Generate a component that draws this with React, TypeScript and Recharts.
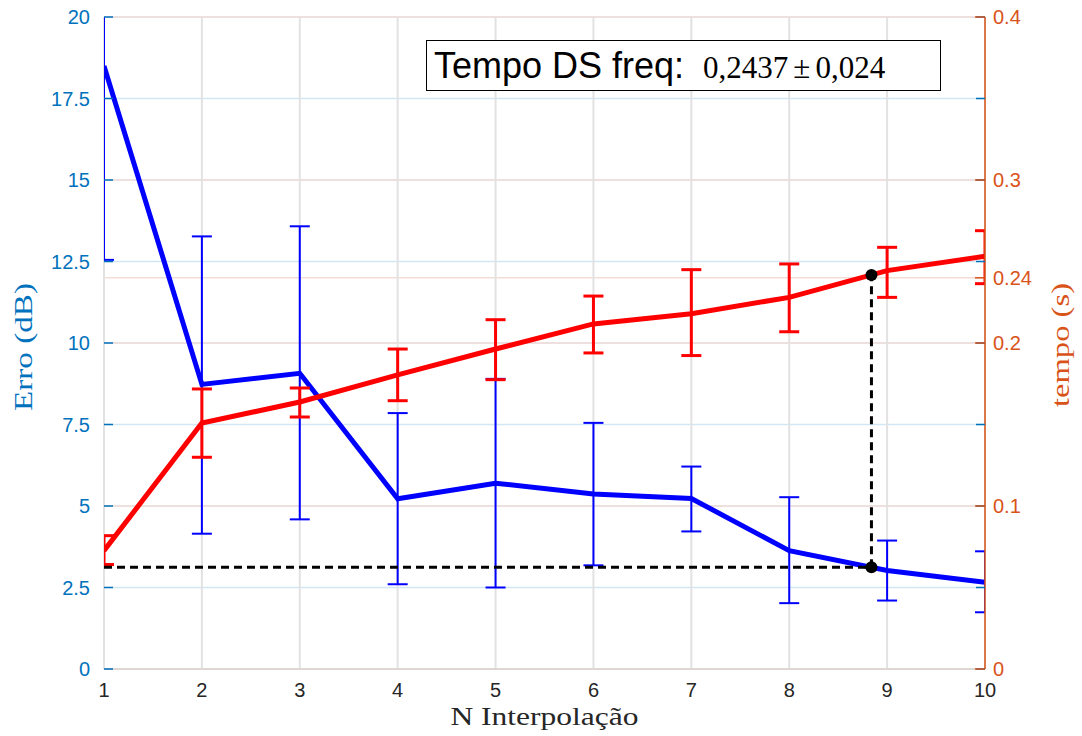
import React from "react";
import {
  LineChart,
  Line,
  XAxis,
  YAxis,
  CartesianGrid,
  ErrorBar,
  ReferenceLine,
  ReferenceDot,
} from "recharts";

// ---- data ----
const nInterp = [1, 2, 3, 4, 5, 6, 7, 8, 9, 10];
const erro = [18.5, 8.73, 9.07, 5.22, 5.7, 5.37, 5.23, 3.63, 3.02, 2.66];
const erroLow = [12.55, 4.15, 4.59, 2.6, 2.5, 3.18, 4.22, 2.02, 2.1, 1.74];
const erroHigh = [24.45, 13.27, 13.58, 7.85, 8.9, 7.55, 6.21, 5.27, 3.94, 3.61];
const tempo = [0.0726, 0.1509, 0.1638, 0.1804, 0.1963, 0.2117, 0.218, 0.228, 0.2444, 0.2532];
const tempoLow = [0.0641, 0.1299, 0.1546, 0.1646, 0.1775, 0.1939, 0.1923, 0.2069, 0.228, 0.2364];
const tempoHigh = [0.0818, 0.1718, 0.1724, 0.1963, 0.2143, 0.2288, 0.245, 0.2485, 0.2587, 0.2689];

const xTicks = [1, 2, 3, 4, 5, 6, 7, 8, 9, 10];
const erroTicks = [0, 2.5, 5, 7.5, 10, 12.5, 15, 17.5, 20];
const tempoTicks = [0, 0.1, 0.2, 0.24, 0.3, 0.4];
const erroDomain = [0, 20];
const tempoDomain = [0, 0.4];

const markerX = 8.84;
const markerErro = 3.12;
const markerTempo = 0.2417;

const titleLabel = "Tempo DS freq:";
const titleMean = "0,2437";
const titlePm = "±";
const titleStd = "0,024";

// ---- layout ----
const WIDTH = 1082;
const HEIGHT = 736;
const LEFT_AXIS_W = 104;
const RIGHT_AXIS_W = 97;
const X_AXIS_H = 67;
const TOP = 17;
const PLOT_LEFT = LEFT_AXIS_W;
const PLOT_RIGHT = WIDTH - RIGHT_AXIS_W;
const PLOT_BOTTOM = HEIGHT - X_AXIS_H;

const BLUE_AX = "#0072BD";
const ORANGE_AX = "#D95319";

const data = nInterp.map((x, i) => ({
  x,
  erro: erro[i],
  erroErr: [erro[i] - erroLow[i], erroHigh[i] - erro[i]],
  tempo: tempo[i],
  tempoErr: [tempo[i] - tempoLow[i], tempoHigh[i] - tempo[i]],
}));

// convert a tempo value into left-axis (dB) units for the vertical guide
const tempoToErro = (t: number) => (t * (erroDomain[1] - erroDomain[0])) / (tempoDomain[1] - tempoDomain[0]);

const sans = "Liberation Sans, Arial, sans-serif";
const serif = "Liberation Serif, 'Times New Roman', serif";

const LeftTick = (props: any) => {
  const { x, y, payload } = props;
  return (
    <g>
      <line x1={PLOT_LEFT} x2={PLOT_LEFT + 9} y1={y} y2={y} stroke={BLUE_AX} strokeWidth={1.5} />
      <line x1={PLOT_RIGHT - 9} x2={PLOT_RIGHT} y1={y} y2={y} stroke={BLUE_AX} strokeWidth={1.5} />
      <text x={x} y={y} dy="0.36em" textAnchor="end" fill={BLUE_AX} fontSize={20} fontFamily={sans}>
        {String(payload.value)}
      </text>
    </g>
  );
};

const RightTick = (props: any) => {
  const { x, y, payload } = props;
  return (
    <g>
      <line x1={PLOT_RIGHT - 10} x2={PLOT_RIGHT} y1={y} y2={y} stroke={ORANGE_AX} strokeWidth={1.5} />
      <text x={x} y={y} dy="0.36em" textAnchor="start" fill={ORANGE_AX} fontSize={20} fontFamily={sans}>
        {String(payload.value)}
      </text>
    </g>
  );
};

const BottomTick = (props: any) => {
  const { x, y, payload } = props;
  return (
    <text x={x} y={y} dy="0.71em" textAnchor="middle" fill="#262626" fontSize={20} fontFamily={sans}>
      {String(payload.value)}
    </text>
  );
};

const LEFT_LABEL_Y = 347;
const RIGHT_LABEL_Y = 345;

export default function App() {
  return (
    <div style={{ position: "absolute", left: 0, top: 0, width: WIDTH, height: HEIGHT, background: "#fff" }}>
      <style>{`.recharts-errorBars, .recharts-errorBar { clip-path: url(#plotAreaClip); }`}</style>
      <LineChart
        width={WIDTH}
        height={HEIGHT}
        data={data}
        margin={{ top: TOP, right: 0, bottom: 0, left: 0 }}
      >
        <defs>
          <clipPath id="plotAreaClip" clipPathUnits="userSpaceOnUse">
            <rect x={PLOT_LEFT} y={TOP} width={PLOT_RIGHT - PLOT_LEFT} height={PLOT_BOTTOM - TOP} />
          </clipPath>
        </defs>
        <CartesianGrid yAxisId="left" vertical={false} stroke="#d3e6f4" strokeWidth={1.5} />
        <CartesianGrid yAxisId="right" vertical={false} stroke="#f3ddd6" strokeWidth={1.5} />
        <CartesianGrid yAxisId="left" horizontal={false} stroke="#e2e2e2" strokeWidth={2} />
        <XAxis
          dataKey="x"
          type="number"
          domain={[1, 10]}
          ticks={xTicks}
          allowDataOverflow
          height={X_AXIS_H}
          tickSize={0}
          tickMargin={14}
          tick={<BottomTick />}
          axisLine={{ stroke: "#ddd6d2", strokeWidth: 2 }}
          tickLine={false}
          label={{
            content: () => (
              <text x={(PLOT_LEFT + PLOT_RIGHT) / 2} y={725} textAnchor="middle" fill="#262626" fontSize={25} fontFamily={serif} textLength={188} lengthAdjust="spacingAndGlyphs">
                N Interpolação
              </text>
            ),
          }}
        />
        <YAxis
          yAxisId="left"
          orientation="left"
          domain={erroDomain}
          ticks={erroTicks}
          allowDataOverflow
          width={LEFT_AXIS_W}
          tickSize={0}
          tickMargin={14}
          tick={<LeftTick />}
          tickLine={false}
          axisLine={false}
          label={{
            content: () => (
              <text x={32} y={LEFT_LABEL_Y} transform={`rotate(-90, 32, ${LEFT_LABEL_Y})`} textAnchor="middle" fill={BLUE_AX} fontSize={25} fontFamily={serif} textLength={128} lengthAdjust="spacingAndGlyphs">
                Erro (dB)
              </text>
            ),
          }}
        />
        <YAxis
          yAxisId="right"
          orientation="right"
          domain={tempoDomain}
          ticks={tempoTicks}
          allowDataOverflow
          width={RIGHT_AXIS_W}
          tickSize={0}
          tickMargin={8}
          tick={<RightTick />}
          tickLine={false}
          axisLine={{ stroke: ORANGE_AX, strokeWidth: 1.5 }}
          label={{
            content: () => (
              <text x={1069} y={RIGHT_LABEL_Y} transform={`rotate(-90, 1069, ${RIGHT_LABEL_Y})`} textAnchor="middle" fill={ORANGE_AX} fontSize={25} fontFamily={serif} textLength={124} lengthAdjust="spacingAndGlyphs">
                tempo (s)
              </text>
            ),
          }}
        />
        <Line
          yAxisId="left"
          dataKey="erro"
          stroke="#0000FF"
          strokeWidth={5}
          dot={false}
          activeDot={false}
          isAnimationActive={false}
        >
          <ErrorBar dataKey="erroErr" direction="y" width={10} stroke="#0000FF" strokeWidth={2} isAnimationActive={false} />
        </Line>
        <Line
          yAxisId="right"
          dataKey="tempo"
          stroke="#FF0000"
          strokeWidth={5}
          dot={false}
          activeDot={false}
          isAnimationActive={false}
        >
          <ErrorBar dataKey="tempoErr" direction="y" width={10} stroke="#FF0000" strokeWidth={3} isAnimationActive={false} />
        </Line>
        <ReferenceLine
          yAxisId="left"
          segment={[
            { x: 1, y: markerErro },
            { x: markerX, y: markerErro },
          ]}
          stroke="#000"
          strokeWidth={3}
          strokeDasharray="8 5"
        />
        <ReferenceLine
          yAxisId="left"
          segment={[
            { x: markerX, y: markerErro },
            { x: markerX, y: tempoToErro(markerTempo) },
          ]}
          stroke="#000"
          strokeWidth={3}
          strokeDasharray="8 5"
        />
        <ReferenceDot yAxisId="left" x={markerX} y={markerErro} r={6} fill="#000" stroke="none" />
        <ReferenceDot yAxisId="right" x={markerX} y={markerTempo} r={6} fill="#000" stroke="none" />
      </LineChart>
      <div
        style={{
          position: "absolute",
          left: 426,
          top: 40,
          width: 515,
          height: 51,
          border: "1px solid #000",
          background: "#fff",
          boxSizing: "border-box",
          display: "flex",
          alignItems: "center",
          paddingLeft: 7,
          whiteSpace: "nowrap",
        }}
      >
        <span style={{ fontFamily: sans, fontSize: 36, color: "#000" }}>{titleLabel}</span>
        <span style={{ fontFamily: serif, fontSize: 31, color: "#000", marginLeft: 19, marginTop: 4 }}>{titleMean}</span>
        <span style={{ fontFamily: serif, fontSize: 31, color: "#000", marginLeft: 5, marginRight: 5, marginTop: 4 }}>{titlePm}</span>
        <span style={{ fontFamily: serif, fontSize: 31, color: "#000", marginTop: 4 }}>{titleStd}</span>
      </div>
    </div>
  );
}
